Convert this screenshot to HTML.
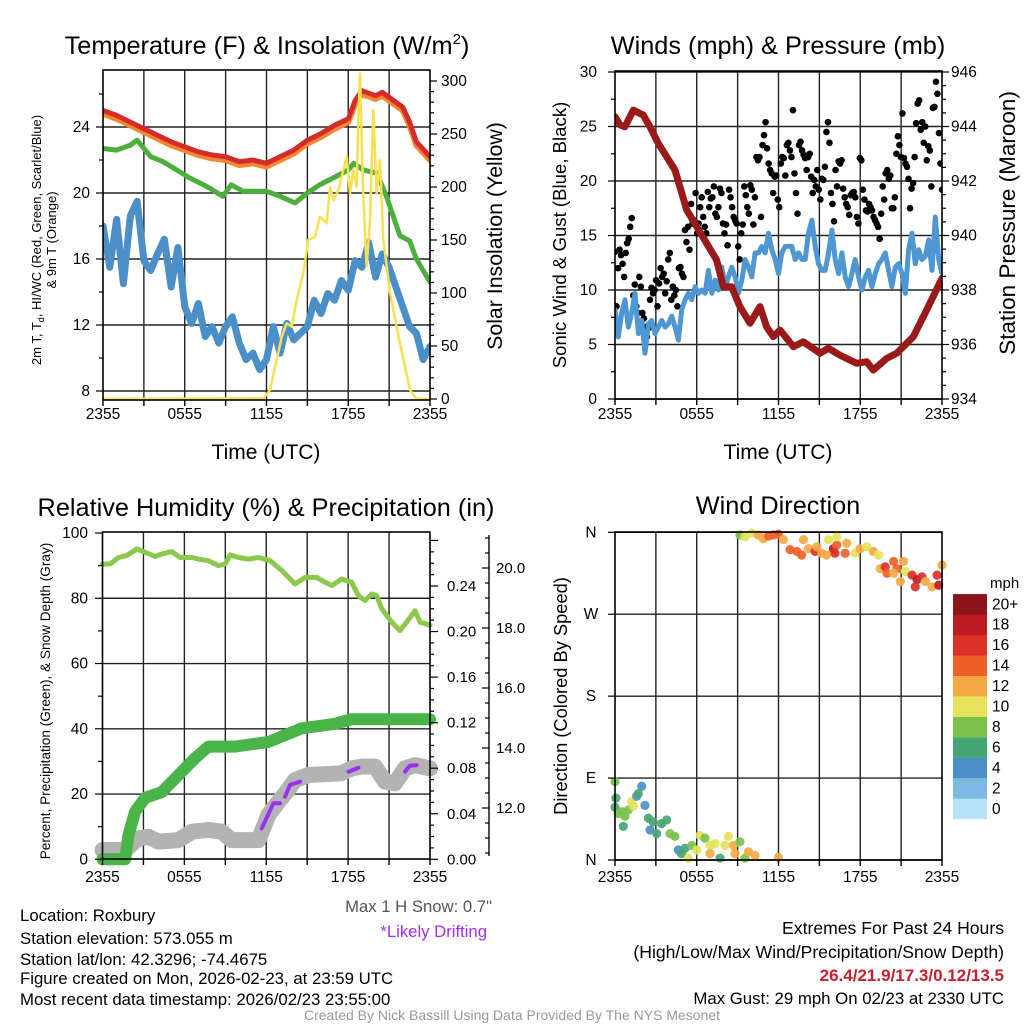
<!DOCTYPE html>
<html><head><meta charset="utf-8"><style>
html,body{margin:0;padding:0;background:#fff;}
svg{display:block;font-family:"Liberation Sans",Arial,sans-serif;}
</style></head><body>
<svg id="chart" width="1024" height="1024" viewBox="0 0 1024 1024" xmlns="http://www.w3.org/2000/svg">
<defs>
<clipPath id="c1"><rect x="103" y="70" width="327" height="330"/></clipPath>
<clipPath id="c2"><rect x="615" y="71" width="327" height="329"/></clipPath>
</defs>
<rect width="1024" height="1024" fill="#fff"/>
<text x="267" y="54" font-size="25.3" text-anchor="middle">Temperature (F) &amp; Insolation (W/m<tspan dy="-10" font-size="15">2</tspan><tspan dy="10">)</tspan></text>
<text x="778" y="54" font-size="25.3" text-anchor="middle">Winds (mph) &amp; Pressure (mb)</text>
<text x="266" y="516" font-size="25.3" text-anchor="middle">Relative Humidity (%) &amp; Precipitation (in)</text>
<text x="778" y="514" font-size="25.3" text-anchor="middle">Wind Direction</text>
<text x="266" y="459" font-size="21" text-anchor="middle">Time (UTC)</text>
<text x="778" y="459" font-size="21" text-anchor="middle">Time (UTC)</text>
<text transform="translate(41,240) rotate(-90)" font-size="13" text-anchor="middle">2m T, T<tspan dy="3" font-size="9">d</tspan><tspan dy="-3">, HI/WC (Red, Green, Scarlet/Blue)</tspan></text>
<text transform="translate(56,240) rotate(-90)" font-size="13" text-anchor="middle">&amp; 9m T (Orange)</text>
<text transform="translate(502,236) rotate(-90)" font-size="21.3" text-anchor="middle">Solar Insolation (Yellow)</text>
<text transform="translate(566,235) rotate(-90)" font-size="18.6" text-anchor="middle">Sonic Wind &amp; Gust (Blue, Black)</text>
<text transform="translate(1015,223) rotate(-90)" font-size="22.5" text-anchor="middle">Station Pressure (Maroon)</text>
<text transform="translate(50,701) rotate(-90)" font-size="13.6" text-anchor="middle">Percent, Precipitation (Green), &amp; Snow Depth (Gray)</text>
<text transform="translate(567,696) rotate(-90)" font-size="18.3" text-anchor="middle">Direction (Colored By Speed)</text>
<text x="990" y="588" font-size="15">mph</text>
<text x="492" y="912" font-size="16.7" fill="#555" text-anchor="end">Max 1 H Snow: 0.7"</text>
<text x="487" y="937" font-size="16.7" fill="#a030f0" text-anchor="end">*Likely Drifting</text>
<g font-size="16.8">
<text x="20" y="921">Location: Roxbury</text>
<text x="20" y="944">Station elevation: 573.055 m</text>
<text x="20" y="965">Station lat/lon: 42.3296; -74.4675</text>
<text x="20" y="984">Figure created on Mon, 2026-02-23, at 23:59 UTC</text>
<text x="20" y="1005">Most recent data timestamp: 2026/02/23 23:55:00</text>
</g>
<g text-anchor="end">
<text x="1004" y="934" font-size="17.6">Extremes For Past 24 Hours</text>
<text x="1004" y="958" font-size="17.6">(High/Low/Max Wind/Precipitation/Snow Depth)</text>
<text x="1004" y="981" font-size="17" fill="#c8202a" font-weight="bold">26.4/21.9/17.3/0.12/13.5</text>
<text x="1004" y="1004" font-size="16.8">Max Gust: 29 mph On 02/23 at 2330 UTC</text>
</g>
<text x="512" y="1020" font-size="14" fill="#999" text-anchor="middle">Created By Nick Bassill Using Data Provided By The NYS Mesonet</text>
</svg>
<script>
// ===== data =====
const timeTickLabels = ["2355","0555","1155","1755","2355"];
const tempTicks = [8,12,16,20,24];
const insolTicks = [0,50,100,150,200,250,300];
const windTicks = [0,5,10,15,20,25,30];
const pressTicks = [934,936,938,940,942,944,946];
const rhTicks = [0,20,40,60,80,100];
const precipTicks = [0.00,0.04,0.08,0.12,0.16,0.20,0.24];
const snowTicks = [12.0,14.0,16.0,18.0,20.0];
const dirLabels = ["N","E","S","W","N"];
const dirTicks = [0,90,180,270,360];
const cbarLabels = ["0","2","4","6","8","10","12","14","16","18","20+"];
const cbarColors = ["#b6e3f8","#7cb9e3","#4a8fc7","#46a673","#7bc14a","#e6e25a","#f5a945","#ef6028","#db3126","#bd1b24","#8b1519"];

const redTimes = [0,1,2,3,4,5,6,7,8,9,10,11,12,13,14,15,16,17,18,18.5,19,20,20.5,21,22,22.5,23,24];
const redTemp = [25.0,24.7,24.3,23.9,23.5,23.1,22.8,22.5,22.3,22.2,21.9,22.0,21.8,22.2,22.6,23.2,23.6,24.1,24.5,25.6,26.2,25.9,26.1,25.8,25.2,24.3,23.1,22.2];
const orangeTemp = [24.8,24.5,24.1,23.7,23.3,22.9,22.6,22.3,22.1,22.0,21.7,21.8,21.6,22.0,22.4,23.0,23.4,23.9,24.3,25.4,26.0,25.7,25.9,25.6,25.0,24.1,22.9,22.0];
const greenTimes = [0,1,2,2.5,3.5,4.4,5.4,6.4,7.6,8.8,9.4,10.3,12,13,14.1,15,15.9,17.1,18,18.4,19.1,20.1,20.8,21.8,22.5,23,24];
const dewpoint = [22.7,22.6,22.9,23.2,22.2,21.9,21.4,20.9,20.4,19.8,20.5,20.1,20.1,19.8,19.4,20.0,20.5,21.0,21.4,21.8,21.4,21.2,19.8,17.4,17.1,16.0,14.6];
const windChill = [18.0,15.5,18.4,14.5,18.6,19.5,15.9,15.3,16.3,17.2,14.3,16.7,13.1,12.1,13.3,11.3,11.9,10.9,11.9,12.5,10.9,9.9,10.3,9.3,9.9,11.9,10.3,12.1,11.1,11.5,11.9,13.5,12.7,13.9,13.5,14.7,14.1,15.9,15.5,17.0,14.9,16.3,15.5,14.3,13.1,11.9,11.5,9.9,10.7];
const solarTimes = [0,11.77,12.26,12.75,13.12,13.48,13.85,14.22,14.70,15.07,15.56,15.93,16.42,16.66,16.91,17.27,17.64,17.89,18.13,18.37,18.62,18.74,18.86,19.1,19.35,19.6,19.84,20.09,20.33,20.58,21.07,21.8,22.53,23.02,24];
const solar = [0,0.6,8.5,36.8,58.8,71.4,68.2,93.4,118.6,150,153,172,165.7,200,187.7,197,216,228.6,194,216,200,263,307,194,124.8,168.9,272.6,194,225.5,150,99.7,52.5,8.5,0,0];

const windSpeed = [8.2,5.7,7.9,9.1,6.6,7.9,9.7,6.0,7.2,4.2,6.9,7.2,6.0,6.6,7.2,6.6,6.9,7.6,6.6,5.4,8.2,9.1,9.7,9.1,10.3,9.7,10.0,9.7,11.8,9.7,10.9,10.0,12.1,10.3,11.2,12.1,11.2,9.7,10.9,12.8,12.1,11.2,13.4,13.4,14.0,13.4,15.2,13.7,12.8,11.5,13.4,14.0,14.0,14.0,12.8,13.4,12.8,12.8,15.2,16.4,14.0,12.4,11.8,11.8,13.4,15.5,12.8,11.5,13.4,11.2,10.3,11.5,12.8,11.2,10.0,11.2,11.8,10.3,11.5,12.4,12.8,13.4,11.8,10.3,12.1,12.4,11.5,9.7,13.7,15.2,12.4,13.7,12.8,13.1,14.6,11.8,16.7,12.8,11.5];
const gusts = [13.5,8.5,12.0,13.7,13.2,12.4,11.2,13.4,14.3,14.7,15.8,16.6,9.5,10.5,8.5,7.9,
11.2,10.3,7.9,7.4,6.6,5.7,6.5,9.1,10.2,9.7,10.0,10.9,8.5,10.6,12.0,11.2,11.5,9.7,10.8,12.8,13.4,9.1,
10.3,9.5,10.0,8.5,12.0,12.1,11.5,11.2,15.5,14.4,15.8,13.7,17.9,16.1,16.4,18.9,15.2,
16.1,17.6,18.5,16.7,15.8,15.2,19.0,17.6,18.4,18.5,19.5,17.0,16.7,17.6,19.3,18.9,16.1,15.2,16.0,14.1,19.2,18.5,17.6,16.7,16.4,16.1,14.0,12.8,
15.2,16.0,19.5,18.7,17.6,17.0,19.6,19.2,16.0,18.5,22.2,21.9,22.2,16.7,23.3,24.2,25.4,23.0,21.6,21.0,20.7,18.9,
20.4,20.5,18.3,17.6,21.6,22.2,22.1,20.5,23.3,23.5,22.8,22.2,26.5,20.7,18.9,17.0,23.3,23.6,22.8,22.4,22.1,21.0,
22.2,22.5,20.4,18.9,20.1,19.5,21.0,19.2,18.3,20.2,20.1,21.3,24.5,25.4,23.5,18.9,17.9,16.3,21.0,19.5,21.8,
21.6,21.9,19.3,18.5,17.9,17.6,16.9,18.7,18.9,19.0,18.5,16.7,16.1,22.1,21.9,19.2,18.3,17.3,17.2,
17.9,17.6,17.3,16.7,16.4,16.1,15.8,14.7,17.0,19.5,18.3,20.7,21.0,20.2,20.5,17.5,17.5,18.5,22.5,24.1,23.3,22.2,26.2,22.1,21.6,21.3,20.2,17.5,
19.3,19.8,22.2,25.3,27.1,27.4,24.7,25.4,23.5,25.0,21.9,23.2,22.8,19.5,26.7,26.8,29.1,28.0,24.4,21.6,19.2];
const pressTimes = [0,0.37,0.73,1.35,2.08,2.57,3.18,3.79,4.40,5.26,6.0,6.73,7.46,7.95,8.56,9.17,9.91,10.64,11.13,11.62,12.11,13.09,13.82,15.05,15.66,16.5,17.74,18.47,18.96,19.94,20.68,21.9,22.88,24];
const pressure = [944.36,944.06,943.99,944.6,944.42,943.99,943.38,942.89,942.4,940.94,940.32,939.71,939.1,938.12,938.12,937.39,936.78,937.39,936.65,936.29,936.53,935.92,936.1,935.68,935.86,935.61,935.31,935.37,935.06,935.49,935.68,936.29,937.27,938.43];

const rhTimes = [0,0.56,1.17,1.78,2.52,3.13,3.86,4.35,5.08,5.69,6.55,7.03,7.77,8.5,8.99,9.35,9.96,10.7,11.43,12.28,13.14,13.63,14.11,14.85,15.7,16.31,16.8,17.53,18.26,18.75,19.24,19.73,20.09,20.46,21.19,21.8,22.29,22.9,23.27,24];
const rh = [90.5,90.5,92.5,93.1,95.1,94.1,92.8,93.6,94.3,92.5,92.5,92.0,91.5,90.0,90.5,93.3,92.5,92.0,92.5,91.5,88.5,86.4,84.4,86.4,86.4,84.9,83.9,85.9,84.9,80.8,79.3,81.3,80.8,76.8,72.7,70.1,72.7,76.2,72.7,71.7];
const precipTimes = [0,1.66,1.9,2.39,3.13,4.35,5.08,6.06,6.79,7.77,9.72,12.16,14.6,17.04,18.26,24];
const precip = [0,0,0.021,0.042,0.054,0.059,0.068,0.080,0.089,0.099,0.099,0.103,0.115,0.119,0.123,0.123];
const snowTimes = [0,1.66,2.64,3.37,4.1,5.57,6.55,7.77,8.74,9.47,10.45,11.43,12.16,12.89,13.5,14.11,15.09,17.53,18.26,18.99,19.97,20.7,21.43,22.17,22.9,24];
const snowDepth = [10.6,10.6,10.99,11.04,10.88,10.93,11.21,11.27,11.21,10.93,10.93,10.93,11.77,12.21,12.54,12.93,13.1,13.16,13.32,13.38,13.38,12.88,12.82,13.32,13.43,13.32];
const driftTimes = [[11.67,12.53,13.01],[13.38,13.74,14.48],[18.02,18.75],[22.17,22.53,23.02]];
const driftDepth = [[11.32,12.16,12.16],[12.38,12.77,12.88],[13.21,13.34],[13.21,13.41,13.43]];

const dirTimes = [0,0.07,0,0.24,0.49,0.61,0.73,0.98,1.22,1.35,1.59,1.71,1.96,2.2,2.45,2.8,2.57,3.06,3.42,3.79,4.04,4.4,4.65,4.89,5.14,5.38,5.63,6.0,6.24,6.6,6.97,7.34,6.97,7.71,8.07,8.32,8.69,8.81,9.17,9.54,9.79,10.28,11.99,
9.17,9.54,10.03,10.52,10.89,11.26,11.62,11.99,12.36,12.85,13.34,13.7,13.83,14.2,14.69,14.81,15.18,15.54,15.67,16.03,16.28,16.15,16.89,17.01,17.63,17.99,18.48,18.97,19.34,19.47,19.83,19.96,20.45,20.69,20.45,21.18,21.31,20.94,21.8,22.17,22.04,22.53,22.78,23.27,23.64,23.76,24,16.28];
const dirDeg = [86,68,58,51,53,37,48,55,64,59,70,73,81,60,46,42,33,29,40,44,29,26,11,7,13,2,16,11,27,24,16,18,7,2,16,26,16,7,20,2,9,5,3,
357,355,359,357,353,356,357,358,352,341,339,335,352,342,339,344,337,335,352,342,346,337,337,348,337,342,344,339,335,320,322,315,328,320,315,328,317,306,313,308,300,311,306,300,313,302,324,355];
const dirSpeed = [8.5,6.5,6.5,8.5,8.5,6.5,8.5,8.5,10.5,10.5,4.5,6.5,4.5,4.5,6.5,6.5,4.5,6.5,6.5,6.5,8.5,8.5,4.5,6.5,6.5,10.5,8.5,10.5,10.5,8.5,10.5,10.5,12.5,6.5,10.5,10.5,12.5,12.5,8.5,8.5,12.5,12.5,12.5,
8.5,10.5,10.5,12.5,12.5,14.5,14.5,14.5,12.5,14.5,14.5,14.5,12.5,12.5,16.5,12.5,12.5,12.5,10.5,18.5,14.5,16.5,14.5,12.5,10.5,12.5,10.5,12.5,10.5,12.5,16.5,14.5,14.5,14.5,12.5,12.5,10.5,12.5,16.5,18.5,16.5,16.5,12.5,12.5,16.5,18.5,12.5,10.5];

// ===== scales =====
const x1 = t => 103 + t*327/24;
const yT = v => 391 - (v-8)*16.5;
const yS = v => 399 - v*1.06;
const x2 = t => 615 + t*327/24;
const yW = v => 399 - v*10.9;
const yP = p => 399 - (p-934)*27.25;
const x3 = t => 102.5 + t*327.5/24;
const yRH = v => 859.3 - v*3.263;
const yPr = v => 859.3 - v*1138.75;
const ySn = v => 808 - (v-12)*30;
const yD = d => 860 - d*327.7/360;

const NS = 'http://www.w3.org/2000/svg';
const svg = document.getElementById('chart');
function mk(tag, attrs, parent){
  const e = document.createElementNS(NS, tag);
  for (const k in attrs) e.setAttribute(k, attrs[k]);
  (parent || svg).appendChild(e);
  return e;
}
function grp(name, clip){
  const g = mk('g', clip ? {'clip-path':'url(#'+clip+')'} : {});
  
  
  return g;
}
function line(g, xa, ya, xb, yb, w, c){
  return mk('line', {x1:xa, y1:ya, x2:xb, y2:yb, stroke:c||'#000', 'stroke-width':w||1.4}, g);
}
function txt(g, x, y, s, anchor, size, fill){
  const t = mk('text', {x:x, y:y, 'font-size':size||15.5, 'text-anchor':anchor||'middle', fill:fill||'#000'}, g);
  t.textContent = s;
  return t;
}
function pathFrom(xs, ys){
  let d = '';
  for (let i=0;i<xs.length;i++) d += (i?'L':'M') + xs[i].toFixed(1) + ',' + ys[i].toFixed(1);
  return d;
}
function series(g, name, times, vals, xf, yf, color, width, opacity){
  const p = mk('path', {d: pathFrom(times.map(xf), vals.map(yf)), fill:'none', stroke:color, 'stroke-width':width, 'stroke-linejoin':'round', 'stroke-linecap':'round', opacity: opacity||1}, g);
  
  
  return p;
}
const even = (n) => Array.from({length:n}, (_, i) => i*24/(n-1));

function panelGrid(name, xf, top, bottom, left, right, hy){
  const g = grp(name);
  for (let h=3; h<24; h+=3) line(g, xf(h), top, xf(h), bottom, 1.4, '#222');
  hy.forEach(y => line(g, left, y, right, y, 1.4, '#222'));
  return g;
}
function xAxis(name, xf, bottom, ylab){
  const g = grp(name);
  for (let h=0; h<=24; h+=3) line(g, xf(h), bottom, xf(h), bottom+6, 1.4);
  timeTickLabels.forEach((s,i) => txt(g, xf(i*6), ylab, s, 'middle', 15.5));
  return g;
}
function frame(name, l, t, r, b){
  const rc = mk('rect', {x:l, y:t, width:r-l, height:b-t, fill:'none', stroke:'#000', 'stroke-width':1.6});
  
  
}

// ---- Panel 1 ----
panelGrid('temp-grid', x1, 70, 400, 103, 430, tempTicks.map(yT));
const p1 = grp('temp-series', 'c1');
series(p1, 'windchill-line', even(windChill.length), windChill, x1, yT, '#4a8fc7', 7);
series(p1, 'dewpoint-line', greenTimes, dewpoint, x1, yT, '#4cae3c', 5);
series(p1, 'temp-9m-line', redTimes, orangeTemp, x1, yT, '#f7862f', 6);
series(p1, 'temp-2m-line', redTimes, redTemp, x1, yT, '#d42b2b', 5);
series(p1, 'insolation-line', solarTimes, solar, x1, yS, '#f8e050', 2.5);
frame('temp-plot-frame', 103, 70, 430, 400);
const a1 = grp('temp-axes');
for (let v=8; v<=27; v+=2) line(a1, 103, yT(v), v%4===0?96:99, yT(v), 1.2);
tempTicks.forEach(v => txt(a1, 90, yT(v)+5, String(v), 'end', 15.5));
for (let v=0; v<=300; v+=10) line(a1, 430, yS(v), v%50===0?437:434, yS(v), 1.2);
insolTicks.forEach(v => txt(a1, 441, yS(v)+5, String(v), 'start', 15.5));
xAxis('temp-x-axis', x1, 400, 419);

// ---- Panel 2 ----
panelGrid('wind-grid', x2, 71, 399, 615, 942, windTicks.map(yW));
const p2 = grp('wind-series', 'c2');
const gustT = even(gusts.length);
gusts.forEach((v,i) => {
  const c = mk('circle', {cx:x2(gustT[i]), cy:yW(v), r:3.3, fill:'#000'}, p2);
  
  
});
series(p2, 'wind-speed-line', even(windSpeed.length), windSpeed, x2, yW, '#4f97d2', 5);
series(p2, 'pressure-line', pressTimes, pressure, x2, yP, '#9a1a1a', 7);
frame('wind-plot-frame', 615, 71, 942, 399);
const a2 = grp('wind-axes');
for (let v=0; v<=30; v+=2.5) line(a2, 615, yW(v), v%5===0?608:611, yW(v), 1.2);
windTicks.forEach(v => txt(a2, 597, yW(v)+5, String(v), 'end', 15.5));
for (let p=934; p<=946; p+=0.5) line(a2, 942, yP(p), p%2===0?949:946, yP(p), 1.2);
pressTicks.forEach(v => txt(a2, 951, yP(v)+5, String(v), 'start', 15.5));
xAxis('wind-x-axis', x2, 399, 419);

// ---- Panel 3 ----
panelGrid('rh-grid', x3, 532, 859, 102.5, 430, [20,40,60,80].map(yRH));
const p3 = grp('rh-series');
series(p3, 'rh-line', rhTimes, rh, x3, yRH, '#8cc84b', 5);
series(p3, 'snow-depth-line', snowTimes, snowDepth, x3, ySn, '#b3b3b3', 16);
driftTimes.forEach((ts,i) => series(p3, 'drifting-segment', ts, driftDepth[i], x3, ySn, '#9b30f0', 4));
series(p3, 'precip-line', precipTimes, precip, x3, yPr, '#49b548', 12);
frame('rh-plot-frame', 102.5, 532, 430, 859);
const a3 = grp('rh-axes');
for (let v=0; v<=100; v+=10) line(a3, 102.5, yRH(v), v%20===0?95:98, yRH(v), 1.2);
rhTicks.forEach(v => txt(a3, 88, yRH(v)+5, String(v), 'end', 15.5));
for (let k=0; k<=28; k++) line(a3, 430, yPr(k/100), k%4===0?438:434, yPr(k/100), 1.2);
precipTicks.forEach(v => txt(a3, 447, yPr(v)+5, v.toFixed(2), 'start', 15));
line(a3, 489, 535, 489, 856, 1.4);
for (let v=10.5; v<=21.01; v+=0.5) line(a3, 489, ySn(v), Number.isInteger(v/2)?482:485, ySn(v), 1.2);
snowTicks.forEach(v => txt(a3, 496, ySn(v)+5, v.toFixed(1), 'start', 15));
xAxis('rh-x-axis', x3, 859, 882);

// ---- Panel 4 ----
panelGrid('direction-grid', x2, 532, 860, 615, 942, dirTicks.map(yD));
const p4 = grp('direction-dots');
dirDeg.forEach((d,i) => {
  const bin = Math.min(10, Math.floor(dirSpeed[i]/2));
  const c = mk('circle', {cx:x2(dirTimes[i]), cy:yD(d), r:4.6, fill:cbarColors[bin], opacity:0.92}, p4);
  
  
});
frame('direction-plot-frame', 615, 532, 942, 860);
const a4 = grp('direction-axes');
dirTicks.forEach((d,i) => { line(a4, 615, yD(d), 608, yD(d), 1.2); txt(a4, 591, yD(d)+5, dirLabels[i], 'middle', 15.5); });
xAxis('direction-x-axis', x2, 860, 882);
const cb = grp('speed-colorbar');
cbarColors.forEach((c,i) => {
  const r = mk('rect', {x:953, y:819-(i+1)*20.45, width:34, height:20.6, fill:c}, cb);
  
  
  txt(cb, 992, 819-(i+0.5)*20.45+5, cbarLabels[i], 'start', 15.5);
});
</script>
</body></html>
